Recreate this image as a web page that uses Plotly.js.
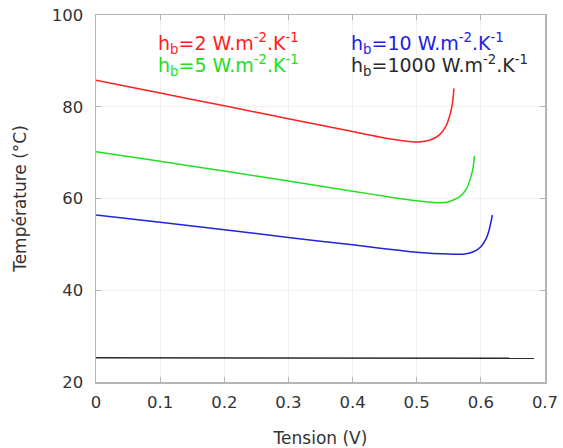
<!DOCTYPE html>
<html><head><meta charset="utf-8">
<script src="https://cdn.plot.ly/plotly-3.0.1.min.js"></script>
<style>html,body{margin:0;padding:0;background:#fff}#c{width:563px;height:448px}</style>
</head><body><div id="c"></div>
<script>
// h_b = 2 W.m-2.K-1
const v2 = [0, 0.1, 0.2, 0.3, 0.4, 0.45, 0.5, 0.52, 0.535, 0.545, 0.552, 0.556, 0.558];
const t2 = [85.8, 83.0, 80.2, 77.4, 74.6, 73.2, 72.3, 72.7, 73.8, 75.6, 78.3, 81.0, 84.0];
// h_b = 5
const v5 = [0, 0.1, 0.2, 0.3, 0.4, 0.45, 0.5, 0.53, 0.55, 0.567, 0.578, 0.584, 0.588, 0.590];
const t5 = [70.2, 68.1, 66.0, 63.8, 61.6, 60.5, 59.5, 59.1, 59.3, 60.4, 62.2, 64.5, 66.8, 69.3];
// h_b = 10
const v10 = [0, 0.1, 0.2, 0.3, 0.4, 0.5, 0.55, 0.575, 0.59, 0.6, 0.608, 0.613, 0.618];
const t10 = [56.4, 54.8, 53.2, 51.5, 49.9, 48.3, 47.9, 47.9, 48.5, 49.5, 51.2, 53.2, 56.4];
// h_b = 1000
const v1000 = [0, 0.23, 0.24, 0.683];
const t1000 = [25.3, 25.3, 25.15, 25.15];

const xTicks = [0, 0.1, 0.2, 0.3, 0.4, 0.5, 0.6, 0.7];
const xTickText = ["0", "0.1", "0.2", "0.3", "0.4", "0.5", "0.6", "0.7"];
const yTicks = [20, 40, 60, 80, 100];

const labels = ["h<sub>b</sub>=2 W.m<sup>-2</sup>.K<sup>-1</sup>",
                "h<sub>b</sub>=5 W.m<sup>-2</sup>.K<sup>-1</sup>",
                "h<sub>b</sub>=10 W.m<sup>-2</sup>.K<sup>-1</sup>",
                "h<sub>b</sub>=1000 W.m<sup>-2</sup>.K<sup>-1</sup>"];
const colors = ["#ff2020", "#22e022", "#2222dd", "#2a2a2a"];

const mk = (x, y, c, sp) => ({x, y, type: 'scatter', mode: 'lines',
  line: sp ? {color: c, width: 1.5, shape: 'spline', smoothing: 0.6} : {color: c, width: 1.5}, showlegend: false});
const data = [mk(v2, t2, colors[0], true), mk(v5, t5, colors[1], true), mk(v10, t10, colors[2], true), mk(v1000, t1000, colors[3], false)];

const F = "DejaVu Sans, sans-serif";
const ax = {
  showline: true, linecolor: '#b5b5b5', linewidth: 1.5, mirror: 'allticks',
  ticks: 'inside', ticklen: 5, tickcolor: '#b5b5b5',
  showgrid: true, gridcolor: '#efefef', gridwidth: 1, zeroline: false,
  tickfont: {family: F, size: 16.5, color: '#333'}
};
const annPos = [[0.093, 93.8, 0], [0.093, 88.9, 1], [0.395, 93.8, 2], [0.395, 88.9, 3]];
const annotations = annPos.map(p => ({
  x: p[0], y: p[1], xref: 'x', yref: 'y', xanchor: 'left', yanchor: 'middle', showarrow: false,
  text: labels[p[2]], font: {family: F, size: 19, color: colors[p[2]]}
}));

const layout = {
  width: 563, height: 448,
  margin: {l: 96, r: 18, t: 15, b: 66},
  paper_bgcolor: '#fff', plot_bgcolor: '#fff',
  xaxis: Object.assign({}, ax, {range: [0, 0.7], tickmode: 'array', tickvals: xTicks, ticktext: xTickText, tickangle: 0,
    ticklabelstandoff: 5,
    title: {text: 'Tension (V)', font: {family: F, size: 17, color: '#333'}, standoff: 21}}),
  yaxis: Object.assign({}, ax, {range: [20, 100], tickmode: 'array', tickvals: yTicks,
    ticklabelstandoff: 8,
    title: {text: 'Température (°C)', font: {family: F, size: 17, color: '#333'}, standoff: 21}}),
  annotations
};
Plotly.newPlot('c', data, layout, {staticPlot: true});
</script></body></html>
